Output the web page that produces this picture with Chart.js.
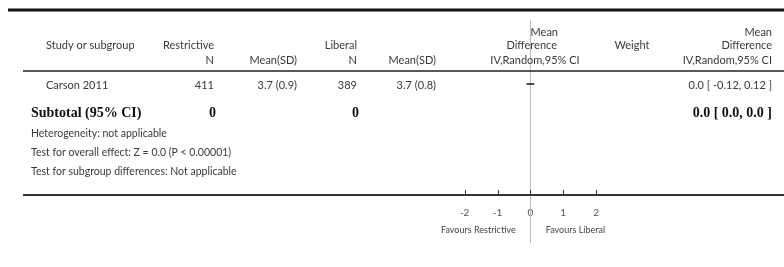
<!DOCTYPE html>
<html>
<head>
<meta charset="utf-8">
<script src="https://cdn.jsdelivr.net/npm/chart.js@4.4.1/dist/chart.umd.min.js"></script>
<style>
  body { margin: 0; background: #fff; }
  canvas { display: block; }
</style>
</head>
<body>
<canvas id="forest" width="784" height="267"></canvas>
<script>
// ---------- DATA ----------
const studies = ['Carson 2011'];
const restrictiveN = [411];
const restrictiveMeanSD = ['3.7 (0.9)'];
const liberalN = [389];
const liberalMeanSD = ['3.7 (0.8)'];
const meanDiff = [0.0];
const ciLow = [-0.12];
const ciHigh = [0.12];
const subtotalN = [0, 0];
const subtotalText = '0.0 [ 0.0, 0.0 ]';
const xTicks = [-2, -1, 0, 1, 2];
const footLines = [
  'Heterogeneity: not applicable',
  'Test for overall effect: Z = 0.0 (P < 0.00001)',
  'Test for subgroup differences: Not applicable'
];

// ---------- STYLE ----------
const sans = 'Lato, "Open Sans", sans-serif';
const serif = '"Liberation Serif", "DejaVu Serif", serif';
const textCol = '#3a3a3a';

function txt(ctx, s, x, y, align, font, color) {
  ctx.font = font || ('11px ' + sans);
  ctx.fillStyle = color || textCol;
  ctx.textAlign = align || 'left';
  ctx.textBaseline = 'middle';
  ctx.fillText(s, x, y);
}

function hline(ctx, x1, x2, y, w, color) {
  ctx.beginPath();
  ctx.lineWidth = w;
  ctx.strokeStyle = color;
  ctx.moveTo(x1, y);
  ctx.lineTo(x2, y);
  ctx.stroke();
}

// ---------- PLUGIN: table + forest decorations ----------
const forestPlugin = {
  id: 'forest',
  beforeDatasetsDraw(chart) {
    const ctx = chart.ctx;
    const x = chart.scales.x;
    const y = chart.scales.y;
    const zx = Math.round(x.getPixelForValue(0)) + 0.5;
    const bottom = chart.chartArea.bottom;
    ctx.save();
    // line of no effect
    ctx.beginPath();
    ctx.lineWidth = 1;
    ctx.strokeStyle = '#bdbdbd';
    ctx.moveTo(zx, 20);
    ctx.lineTo(zx, 243);
    ctx.stroke();
    // axis line across the whole table
    hline(ctx, 23, 784, bottom, 2, '#333');
    // tick marks pointing up from axis
    xTicks.forEach(v => {
      const px = Math.round(x.getPixelForValue(v)) + 0.5;
      ctx.beginPath();
      ctx.lineWidth = 1;
      ctx.strokeStyle = '#333';
      ctx.moveTo(px, bottom - 5);
      ctx.lineTo(px, bottom);
      ctx.stroke();
    });
    // confidence intervals
    studies.forEach((s, i) => {
      const py = y.getPixelForValue(i);
      hline(ctx, x.getPixelForValue(ciLow[i]), x.getPixelForValue(ciHigh[i]), py, 2, '#555');
    });
    ctx.restore();
  },
  afterDraw(chart) {
    const ctx = chart.ctx;
    const x = chart.scales.x;
    const zx = x.getPixelForValue(0);
    ctx.save();
    // rules
    hline(ctx, 8, 784, 10, 3, '#111');
    hline(ctx, 23, 784, 71, 1.5, '#222');

    // header
    txt(ctx, 'Study or subgroup', 46, 45);
    txt(ctx, 'Restrictive', 214, 45, 'right');
    txt(ctx, 'N', 214, 60, 'right');
    txt(ctx, 'Mean(SD)', 297, 60, 'right');
    txt(ctx, 'Liberal', 357, 45, 'right');
    txt(ctx, 'N', 357, 60, 'right');
    txt(ctx, 'Mean(SD)', 436, 60, 'right');
    txt(ctx, 'Mean', 558, 32, 'right');
    txt(ctx, 'Difference', 557, 45, 'right');
    txt(ctx, 'IV,Random,95% CI', 535, 60, 'center');
    txt(ctx, 'Weight', 632, 45, 'center');
    txt(ctx, 'Mean', 772, 32, 'right');
    txt(ctx, 'Difference', 772, 45, 'right');
    txt(ctx, 'IV,Random,95% CI', 772, 60, 'right');

    // study rows
    studies.forEach((s, i) => {
      const py = chart.scales.y.getPixelForValue(i) + 1;
      txt(ctx, s, 46, py);
      txt(ctx, String(restrictiveN[i]), 214, py, 'right');
      txt(ctx, restrictiveMeanSD[i], 297, py, 'right');
      txt(ctx, String(liberalN[i]), 357, py, 'right');
      txt(ctx, liberalMeanSD[i], 436, py, 'right');
      txt(ctx, meanDiff[i].toFixed(1) + ' [ ' + ciLow[i].toFixed(2) + ', ' + ciHigh[i].toFixed(2) + ' ]', 772, py, 'right');
    });

    // subtotal
    const sy = chart.scales.y.getPixelForValue(studies.length);
    const bold = 'bold 14px ' + serif;
    txt(ctx, 'Subtotal (95% CI)', 31, sy, 'left', bold, '#111');
    txt(ctx, String(subtotalN[0]), 216, sy, 'right', bold, '#111');
    txt(ctx, String(subtotalN[1]), 359, sy, 'right', bold, '#111');
    txt(ctx, subtotalText, 772, sy, 'right', bold, '#111');

    // footnotes
    footLines.forEach((l, i) => txt(ctx, l, 31, 134 + i * 19, 'left', '10.5px ' + sans));

    // favours labels
    txt(ctx, 'Favours Restrictive', zx - 52, 230, 'center', '9px ' + sans, '#444');
    txt(ctx, 'Favours Liberal', zx + 45, 230, 'center', '9px ' + sans, '#444');
    ctx.restore();
  }
};

// ---------- CHART ----------
const ctx = document.getElementById('forest').getContext('2d');
new Chart(ctx, {
  type: 'scatter',
  data: {
    datasets: [{
      data: studies.map((s, i) => ({ x: meanDiff[i], y: i })),
      pointStyle: 'rect',
      pointRadius: 1.5,
      backgroundColor: '#444',
      borderColor: '#444',
      borderWidth: 0
    }]
  },
  options: {
    responsive: false,
    devicePixelRatio: 1,
    animation: false,
    layout: { padding: { left: 23, right: 0, top: 20, bottom: 0 } },
    plugins: { legend: { display: false }, tooltip: { enabled: false } },
    scales: {
      x: {
        type: 'linear',
        min: -15.446,
        max: 7.6,
        afterBuildTicks: s => { s.ticks = xTicks.map(v => ({ value: v })); },
        afterFit: s => { s.height = 72; },
        grid: { display: false, drawTicks: false },
        border: { display: false },
        ticks: {
          padding: 12,
          color: '#555',
          font: { family: sans, size: 10 },
          callback: v => String(v),
          maxRotation: 0,
          autoSkip: false
        }
      },
      y: {
        type: 'linear',
        display: false,
        reverse: true,
        min: -2.207,
        max: 3.828
      }
    }
  },
  plugins: [forestPlugin]
});
</script>
</body>
</html>
